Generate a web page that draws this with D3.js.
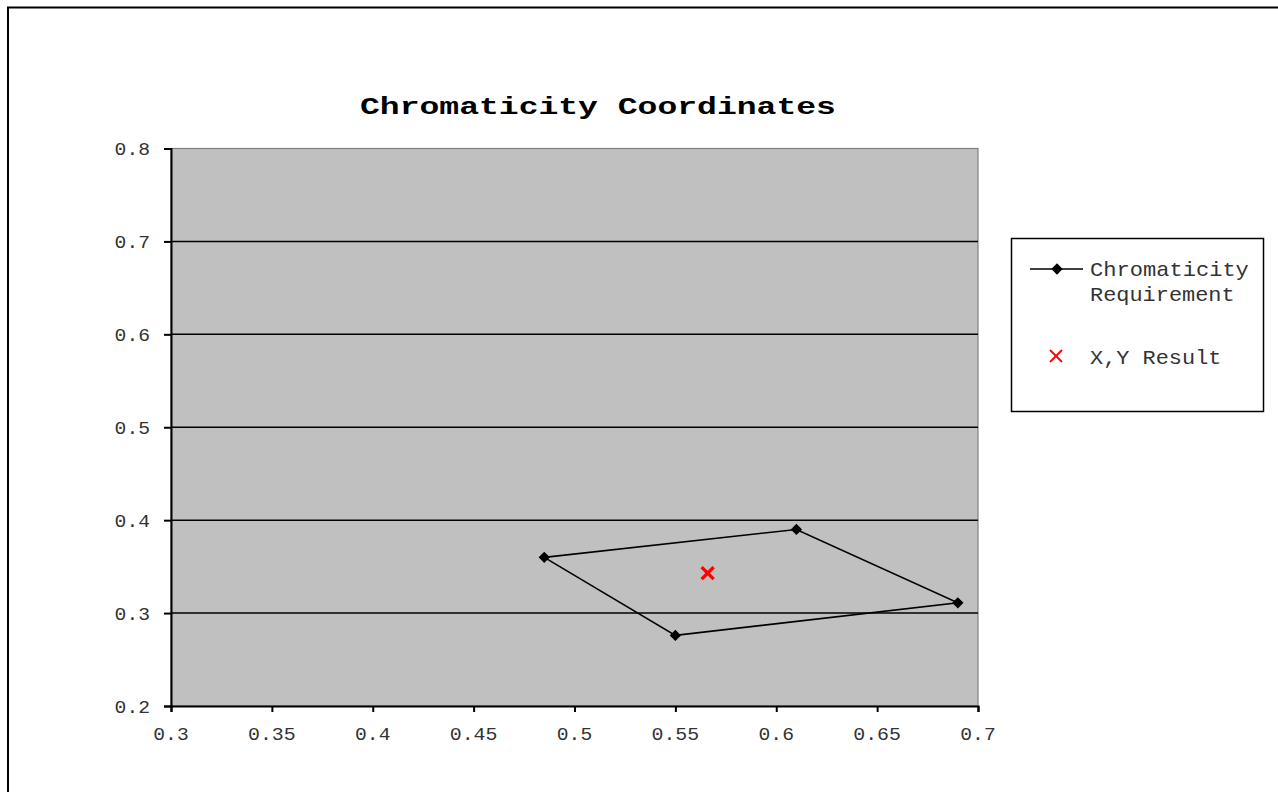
<!DOCTYPE html>
<html><head><meta charset="utf-8">
<script src="https://cdn.jsdelivr.net/npm/d3@7"></script>
<style>html,body{margin:0;padding:0;background:#fff;overflow:hidden}</style>
</head><body>
<svg id="c" width="1278" height="792"></svg>
<script>
const title = "Chromaticity Coordinates";
const seriesNames = ["Chromaticity Requirement", "X,Y Result"];
const reqX = [0.485, 0.61, 0.69, 0.55, 0.485];
const reqY = [0.36, 0.39, 0.311, 0.276, 0.36];
const resX = [0.566];
const resY = [0.343];
const xTicks = [0.3, 0.35, 0.4, 0.45, 0.5, 0.55, 0.6, 0.65, 0.7];
const yTicks = [0.2, 0.3, 0.4, 0.5, 0.6, 0.7, 0.8];

const svg = d3.select("#c");
const FONT = "'Liberation Mono','Courier New',monospace";
const L = 171, R = 978, T = 148.5, B = 706;
const x = d3.scaleLinear().domain([0.3, 0.7]).range([L, R]);
const y = d3.scaleLinear().domain([0.2, 0.8]).range([B, T]);

// outer chart border
svg.append("rect").attr("x", 8).attr("y", 7.5).attr("width", 1300).attr("height", 820)
  .attr("fill", "#fff").attr("stroke", "#000").attr("stroke-width", 2);

// plot area
svg.append("rect").attr("x", L).attr("y", T).attr("width", R - L).attr("height", B - T)
  .attr("fill", "#c0c0c0").attr("stroke", "#808080").attr("stroke-width", 1.2);

// gridlines
svg.append("g").selectAll("line").data(yTicks.filter(d => d > 0.2 && d < 0.8)).join("line")
  .attr("x1", L).attr("x2", R).attr("y1", d => y(d)).attr("y2", d => y(d))
  .attr("stroke", "#000").attr("stroke-width", 1.5);

// helper: stretched text
function stext(g, str, px, py, size, targetW, anchor, weight, fill) {
  const t = g.append("text").text(str).attr("font-family", FONT).attr("font-size", size)
    .attr("font-weight", weight || "normal").attr("fill", fill || "#222");
  const w = t.node().getComputedTextLength();
  const s = targetW ? targetW / w : 1;
  let ox = 0;
  if (anchor === "middle") ox = -w * s / 2; else if (anchor === "end") ox = -w * s;
  t.attr("transform", `translate(${px + ox},${py}) scale(${s},1)`);
  return t;
}

// axes
const yAxis = d3.axisLeft(y).tickValues(yTicks).tickSize(7).tickFormat("");
const gy = svg.append("g").attr("transform", `translate(${L},0)`).call(yAxis);
const xAxis = d3.axisBottom(x).tickValues(xTicks).tickSize(6).tickFormat("");
const gx = svg.append("g").attr("transform", `translate(0,${B})`).call(xAxis);
[gx, gy].forEach(g => {
  g.select(".domain").attr("stroke", "#000").attr("stroke-width", 2);
  g.selectAll(".tick line").attr("stroke", "#000").attr("stroke-width", 2);
});

const labG = svg.append("g");
yTicks.forEach(v => {
  stext(labG, String(v), 150, y(v) + 6.5, 19, 12.3 * String(v).length - 1.5, "end", "normal", "#333");
});
xTicks.forEach(v => {
  stext(labG, String(v), x(v), 739.5, 19, 12.3 * String(v).length - 1.5, "middle", "normal", "#333");
});

// title
stext(svg, title, 598, 114, 24, 476, "middle", "bold", "#000");

// series 1: polygon line with diamonds
const line = d3.line().x(d => x(d[0])).y(d => y(d[1]));
const reqPts = reqX.map((v, i) => [v, reqY[i]]);
svg.append("path").datum(reqPts).attr("d", line).attr("fill", "none")
  .attr("stroke", "#000").attr("stroke-width", 1.6);
svg.append("g").selectAll("path").data(reqPts.slice(0, 4)).join("path")
  .attr("d", d3.symbol().type(d3.symbolSquare).size(64))
  .attr("transform", d => `translate(${x(d[0])},${y(d[1])}) rotate(45)`)
  .attr("fill", "#000");

// series 2: red x
function xMark(g, cx, cy, r, w) {
  g.append("path").attr("d", `M${cx - r},${cy - r}L${cx + r},${cy + r}M${cx - r},${cy + r}L${cx + r},${cy - r}`)
    .attr("stroke", "#ff0000").attr("stroke-width", w).attr("fill", "none");
}
resX.forEach((v, i) => xMark(svg, x(v), y(resY[i]), 6, 3.4));

// legend
const lg = svg.append("g");
lg.append("rect").attr("x", 1011.5).attr("y", 238.5).attr("width", 252).attr("height", 173)
  .attr("fill", "#fff").attr("stroke", "#000").attr("stroke-width", 1.5);
lg.append("line").attr("x1", 1030).attr("x2", 1083).attr("y1", 269).attr("y2", 269)
  .attr("stroke", "#000").attr("stroke-width", 1.6);
lg.append("path").attr("d", d3.symbol().type(d3.symbolSquare).size(64))
  .attr("transform", "translate(1057,269) rotate(45)").attr("fill", "#000");
stext(lg, "Chromaticity", 1090, 276, 20, 159, "start", "normal", "#333");
stext(lg, "Requirement", 1090, 301, 20, 159 * 11 / 12 - 1, "start", "normal", "#333");
xMark(lg, 1056, 356, 6, 1.8);
stext(lg, "X,Y Result", 1090, 364, 20, 159 * 10 / 12 - 1, "start", "normal", "#333");
</script>
</body></html>
